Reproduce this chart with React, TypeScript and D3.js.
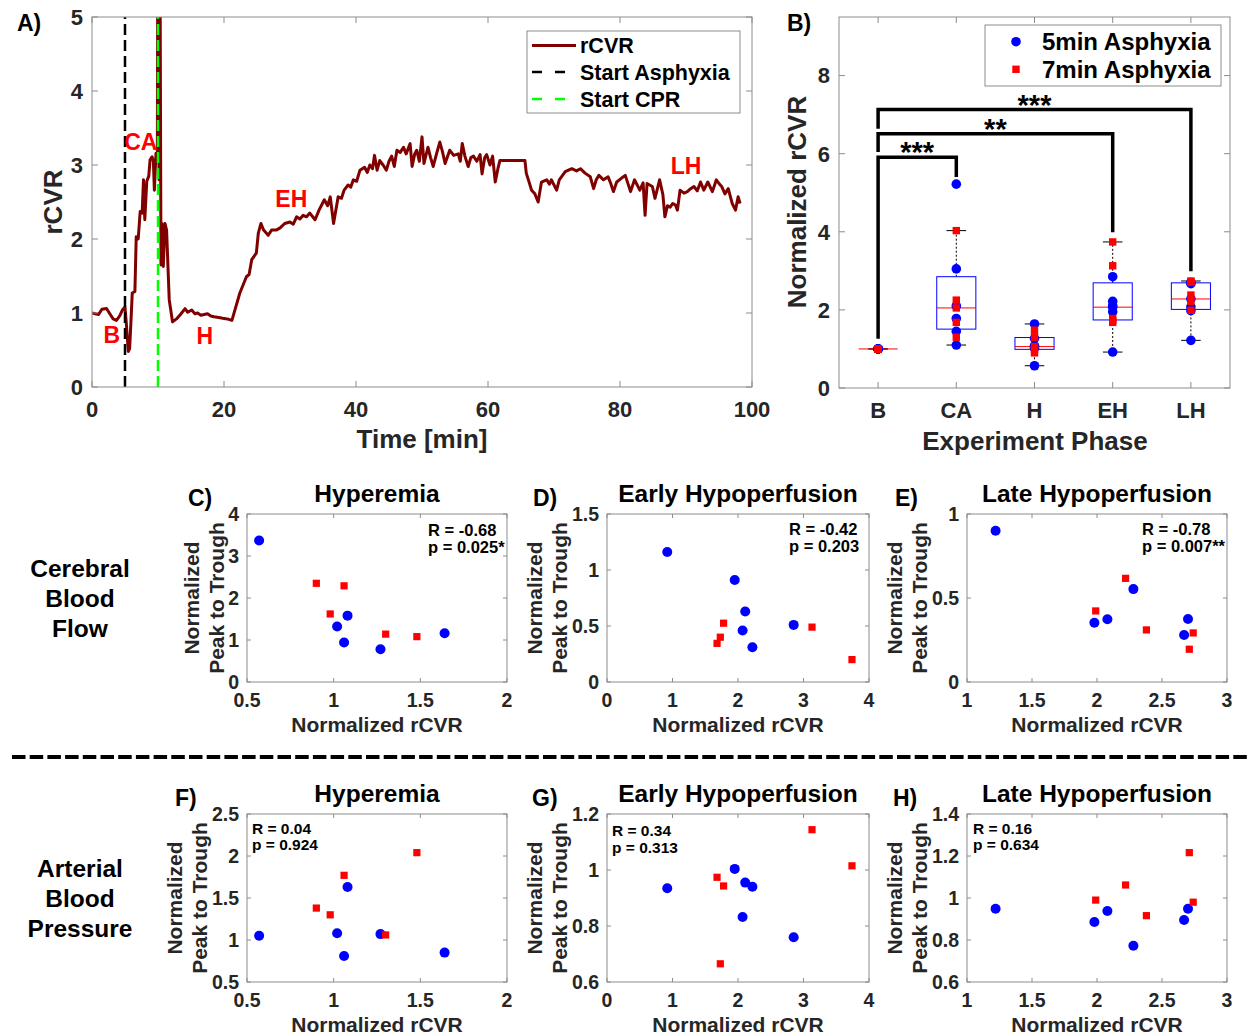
import React from 'react';
import * as d3 from 'd3';

const FONT = "'Liberation Sans', Arial, Helvetica, sans-serif";
const INK = '#262626';
const FRAME = '#8c8c8c';
const BLUE = '#0000ff';
const RED = '#ff0000';
const DARKRED = '#800000';

// ---------------- Panel A data ----------------
const timeMin = [
  0, 0.5, 1.0, 1.5, 2.2, 2.7, 3.2, 3.7, 4.2, 4.6, 5.0, 5.2, 5.5, 5.7, 5.9, 6.1, 6.5, 6.7, 7.0, 7.3,
  7.6, 7.8, 8.0, 8.3, 8.6, 8.8, 9.1, 9.3, 9.45, 9.7, 9.9, 10.0, 10.15, 10.25, 10.45, 10.6, 10.8, 11.05, 11.3, 11.7,
  12.2, 12.8, 13.4, 14.1, 14.5, 15.1, 15.6, 16.0, 16.5, 17.0, 17.5, 18.0, 18.5, 19.2, 19.8, 20.5, 21.2, 22.4, 23.4, 23.8,
  24.2, 24.9, 25.2, 25.6, 26.0, 26.7, 27.2, 27.9, 28.5, 29.2, 30.0, 30.5, 31.0, 31.5, 32.0, 32.5, 33.0, 33.8, 34.4, 35.2,
  35.7, 36.1, 36.6, 37.3, 37.8, 38.2, 38.8, 39.2, 39.6, 40.1, 40.6, 41.3, 41.7, 42.1, 42.5, 42.8, 43.2, 43.6, 44.1, 44.6,
  45.0, 45.4, 45.8, 46.2, 46.7, 47.2, 47.6, 48.2, 48.5, 48.9, 49.2, 49.6, 50.0, 50.3, 50.9, 51.3, 51.7, 52.2, 52.7, 53.1,
  53.5, 54.2, 54.8, 55.5, 55.8, 56.1, 56.5, 57.0, 57.4, 57.8, 58.3, 58.8, 59.1, 59.5, 59.8, 60.3, 60.7, 61.1, 61.5, 61.8,
  65.6, 65.8, 66.6, 67.1, 67.6, 68.1, 68.9, 69.3, 69.6, 70.4, 70.8, 71.7, 72.2, 72.7, 73.4, 74.0, 74.7, 75.5, 76.0, 76.4,
  76.8, 77.5, 78.2, 78.6, 79.0, 79.5, 80.2, 80.8, 81.6, 82.2, 83.0, 83.5, 83.8, 84.1, 84.9, 85.3, 86.0, 86.5, 86.8, 87.2,
  87.6, 88.0, 88.4, 88.7, 89.1, 89.7, 90.2, 90.7, 91.2, 91.7, 92.2, 92.7, 93.3, 94.0, 94.6, 95.0, 95.4, 95.9, 96.4, 97.0,
  97.5, 97.9, 98.2
];
const rcvrValue = [
  1.0, 0.99, 0.98, 1.05, 1.06, 0.99, 0.92, 0.9, 0.96, 1.04, 1.08, 0.86, 0.48, 0.52, 0.88, 1.27, 1.29, 2.03, 2.0, 2.37,
  2.35, 2.8, 2.26, 2.78, 2.85, 3.07, 3.11, 3.05, 2.66, 3.16, 3.08, 7.5, 2.8, 7.5, 1.65, 2.21, 1.63, 2.21, 2.12, 1.18,
  0.88, 0.92, 0.98, 1.06, 1.01, 1.04, 0.99, 1.0, 0.97, 0.98, 0.99, 0.96, 0.95, 0.94, 0.93, 0.92, 0.9, 1.27, 1.49, 1.52,
  1.72, 1.81, 2.08, 2.21, 2.12, 2.05, 2.12, 2.12, 2.15, 2.21, 2.23, 2.2, 2.3, 2.27, 2.32, 2.3, 2.35, 2.26, 2.39, 2.53,
  2.45, 2.57, 2.21, 2.57, 2.55, 2.66, 2.73, 2.7, 2.8, 2.78, 2.93, 2.97, 2.9, 3.0, 2.95, 3.13, 2.93, 3.06, 3.0, 2.93,
  3.05, 3.12, 2.98, 3.2, 3.17, 3.24, 3.15, 3.29, 2.98, 3.15, 3.2, 3.05, 3.38, 3.02, 3.24, 3.1, 2.98, 3.15, 3.31, 3.18,
  3.02, 3.2, 3.13, 3.15, 3.05, 3.29, 3.12, 2.98, 3.1, 3.12, 3.05, 3.14, 2.88, 3.1, 3.14, 3.0, 3.12, 2.77, 2.95, 3.06,
  3.06, 2.89, 2.66, 2.61, 2.5, 2.77, 2.8, 2.74, 2.8, 2.66, 2.8, 2.91, 2.93, 2.95, 2.92, 2.95, 2.89, 2.84, 2.68, 2.8,
  2.86, 2.8, 2.84, 2.75, 2.64, 2.77, 2.82, 2.86, 2.64, 2.8, 2.66, 2.76, 2.32, 2.75, 2.71, 2.55, 2.8, 2.6, 2.3, 2.45,
  2.43, 2.48, 2.46, 2.39, 2.66, 2.62, 2.64, 2.68, 2.71, 2.65, 2.77, 2.66, 2.77, 2.64, 2.8, 2.75, 2.71, 2.61, 2.68, 2.48,
  2.39, 2.57, 2.48
];
const asphyxiaStartMin = 5;
const cprStartMin = 10;
const phaseNames = ['B', 'CA', 'H', 'EH', 'LH'];
const phaseLabelTime = [3.0, 7.4, 17.1, 30.2, 90.0];
const phaseLabelValue = [0.7, 3.32, 0.69, 2.55, 2.99];
const legendANames = ['rCVR', 'Start Asphyxia', 'Start CPR'];
const xTicksA = [0, 20, 40, 60, 80, 100];
const yTicksA = [0, 1, 2, 3, 4, 5];

// ---------------- Panel B / scatter data ----------------
const base5 = [1, 1, 1, 1, 1, 1];
const base7 = [1, 1, 1, 1, 1];
const ca5 = [5.22, 3.05, 2.1, 1.78, 1.45, 1.1];
const ca7 = [4.03, 2.25, 2.05, 1.68, 1.3];
const hyp5 = [0.57, 1.02, 1.08, 1.06, 1.27, 1.64];
const hyp7 = [0.9, 1.06, 0.98, 1.3, 1.48];
const eh5 = [0.92, 1.95, 2.11, 2.07, 2.22, 2.85];
const eh7 = [1.68, 1.73, 1.78, 3.13, 3.74];
const lh5 = [1.22, 1.98, 2.08, 2.28, 2.67, 2.7];
const lh7 = [1.99, 2.22, 2.38, 2.71, 2.74];

const cbfHyp5 = [3.37, 1.32, 1.58, 0.94, 0.78, 1.16];
const cbfHyp7 = [2.35, 2.29, 1.62, 1.14, 1.08];
const cbfEH5 = [1.16, 0.91, 0.63, 0.46, 0.31, 0.51];
const cbfEH7 = [0.345, 0.4, 0.525, 0.49, 0.2];
const cbfLH5 = [0.9, 0.353, 0.373, 0.553, 0.28, 0.375];
const cbfLH7 = [0.423, 0.617, 0.31, 0.195, 0.292];

const abpHyp5 = [1.05, 1.08, 1.63, 0.81, 1.07, 0.85];
const abpHyp7 = [1.38, 1.77, 1.3, 1.06, 2.04];
const abpEH5 = [0.935, 1.004, 0.955, 0.832, 0.94, 0.76];
const abpEH7 = [0.974, 0.665, 0.943, 1.144, 1.015];
const abpLH5 = [0.949, 0.886, 0.938, 0.773, 0.895, 0.949];
const abpLH7 = [0.99, 1.062, 0.916, 1.216, 0.98];

const groups5 = [base5, ca5, hyp5, eh5, lh5];
const groups7 = [base7, ca7, hyp7, eh7, lh7];
const legendBNames = ['5min Asphyxia', '7min Asphyxia'];
const yTicksB = [0, 2, 4, 6, 8];
const sigFrom = [0, 0, 0];
const sigTo = [1, 3, 4];
const sigTop = [5.91, 6.51, 7.13];
const sigLeftBottom = [1.26, 6.04, 6.64];
const sigRightBottom = [5.4, 3.99, 2.99];
const sigStars = ['***', '**', '***'];

const scatterTitles = ['Hyperemia', 'Early Hypoperfusion', 'Late Hypoperfusion'];
const panelLetters = ['C)', 'D)', 'E)', 'F)', 'G)', 'H)'];
const rowNames = [['Cerebral', 'Blood', 'Flow'], ['Arterial', 'Blood', 'Pressure']];
const statR = ['R = -0.68', 'R = -0.42', 'R = -0.78', 'R = 0.04', 'R = 0.34', 'R = 0.16'];
const statP = ['p = 0.025*', 'p = 0.203', 'p = 0.007**', 'p = 0.924', 'p = 0.313', 'p = 0.634'];
const scatterX5 = [hyp5, eh5, lh5];
const scatterX7 = [hyp7, eh7, lh7];
const scatterY5 = [[cbfHyp5, cbfEH5, cbfLH5], [abpHyp5, abpEH5, abpLH5]];
const scatterY7 = [[cbfHyp7, cbfEH7, cbfLH7], [abpHyp7, abpEH7, abpLH7]];
const scatterXDomain = [[0.5, 2], [0, 4], [1, 3]];
const scatterXTicks = [[0.5, 1, 1.5, 2], [0, 1, 2, 3, 4], [1, 1.5, 2, 2.5, 3]];
const scatterYDomain = [[[0, 4], [0, 1.5], [0, 1]], [[0.5, 2.5], [0.6, 1.2], [0.6, 1.4]]];
const scatterYTicks = [
  [[0, 1, 2, 3, 4], [0, 0.5, 1, 1.5], [0, 0.5, 1]],
  [[0.5, 1, 1.5, 2, 2.5], [0.6, 0.8, 1, 1.2], [0.6, 0.8, 1, 1.2, 1.4]],
];

// ---------------- helpers ----------------
const fmt = d3.format('~g');

function prctile(sorted: number[], p: number) {
  const n = sorted.length;
  const pos = p * n + 0.5;
  if (pos <= 1) return sorted[0];
  if (pos >= n) return sorted[n - 1];
  const lo = Math.floor(pos);
  const f = pos - lo;
  return sorted[lo - 1] + f * (sorted[lo] - sorted[lo - 1]);
}

function boxStats(vals: number[]) {
  const s = vals.slice().sort(d3.ascending);
  const q1 = prctile(s, 0.25);
  const med = prctile(s, 0.5);
  const q3 = prctile(s, 0.75);
  const iqr = q3 - q1;
  const hi = d3.max(s.filter((v) => v <= q3 + 1.5 * iqr)) as number;
  const lo = d3.min(s.filter((v) => v >= q1 - 1.5 * iqr)) as number;
  return { q1, med, q3, hi, lo };
}

type AxesProps = {
  x: d3.ScaleLinear<number, number>;
  y: d3.ScaleLinear<number, number>;
  xTicks: number[];
  yTicks: number[];
  xTickLabels?: string[];
  tickLen: number;
  fontSize: number;
  xLabelDy: number;
  yLabelDx: number;
};

function Axes({ x, y, xTicks, yTicks, xTickLabels, tickLen, fontSize, xLabelDy, yLabelDx }: AxesProps) {
  const [x0, x1] = x.range();
  const [y0, y1] = y.range();
  return (
    <g>
      <rect x={x0} y={y1} width={x1 - x0} height={y0 - y1} fill="none" stroke={FRAME} strokeWidth={1} />
      {xTicks.map((t, i) => (
        <g key={'x' + i}>
          <line x1={x(t)} x2={x(t)} y1={y0} y2={y0 - tickLen} stroke={FRAME} />
          <line x1={x(t)} x2={x(t)} y1={y1} y2={y1 + tickLen} stroke={FRAME} />
          <text x={x(t)} y={y0 + xLabelDy} textAnchor="middle" fontSize={fontSize} fontWeight="bold" fill={INK}>
            {xTickLabels ? xTickLabels[i] : fmt(t)}
          </text>
        </g>
      ))}
      {yTicks.map((t, i) => (
        <g key={'y' + i}>
          <line x1={x0} x2={x0 + tickLen} y1={y(t)} y2={y(t)} stroke={FRAME} />
          <line x1={x1} x2={x1 - tickLen} y1={y(t)} y2={y(t)} stroke={FRAME} />
          <text x={x0 - yLabelDx} y={y(t)} dy="0.36em" textAnchor="end" fontSize={fontSize} fontWeight="bold" fill={INK}>
            {fmt(t)}
          </text>
        </g>
      ))}
    </g>
  );
}

function PanelA() {
  const x = d3.scaleLinear().domain([0, 100]).range([92, 752]);
  const y = d3.scaleLinear().domain([0, 5]).range([387, 17]);
  const pts = timeMin.map((t, i) => [t, rcvrValue[i]] as [number, number]);
  const line = d3
    .line<[number, number]>()
    .x((d) => x(d[0]))
    .y((d) => y(d[1]));
  const lx = 532;
  const ly = [45.5, 72, 99];
  return (
    <g>
      <defs>
        <clipPath id="clipA">
          <rect x={92} y={17} width={660} height={370} />
        </clipPath>
      </defs>
      <g clipPath="url(#clipA)">
        <path d={line(pts) || ''} fill="none" stroke={DARKRED} strokeWidth={3} strokeLinejoin="round" />
        <line x1={x(asphyxiaStartMin)} x2={x(asphyxiaStartMin)} y1={387} y2={17} stroke="#000" strokeWidth={2.5} strokeDasharray="11 5" />
        <line x1={x(cprStartMin)} x2={x(cprStartMin)} y1={387} y2={17} stroke="#00ff00" strokeWidth={2.5} strokeDasharray="11 5" />
      </g>
      {phaseNames.map((n, i) => (
        <text key={n} x={x(phaseLabelTime[i])} y={y(phaseLabelValue[i])} dy="0.36em" textAnchor="middle" fontSize={23} fontWeight="bold" fill={RED}>
          {n}
        </text>
      ))}
      <Axes x={x} y={y} xTicks={xTicksA} yTicks={yTicksA} tickLen={6} fontSize={22} xLabelDy={30} yLabelDx={9} />
      <rect x={527} y={31} width={213} height={82} fill="#fff" stroke={FRAME} strokeWidth={1} />
      <line x1={lx} x2={576} y1={ly[0]} y2={ly[0]} stroke={DARKRED} strokeWidth={3} />
      <line x1={lx} x2={566} y1={ly[1]} y2={ly[1]} stroke="#000" strokeWidth={2.5} strokeDasharray="10 13" />
      <line x1={lx} x2={566} y1={ly[2]} y2={ly[2]} stroke="#00ff00" strokeWidth={2.5} strokeDasharray="10 13" />
      {legendANames.map((n, i) => (
        <text key={n} x={580} y={ly[i]} dy="0.36em" fontSize={21.5} fontWeight="bold" fill="#000">
          {n}
        </text>
      ))}
      <text x={62} y={202} transform="rotate(-90 62 202)" textAnchor="middle" fontSize={26} fontWeight="bold" fill={INK}>
        rCVR
      </text>
      <text x={422} y={448} textAnchor="middle" fontSize={26} fontWeight="bold" fill={INK}>
        Time [min]
      </text>
      <text x={17} y={31} fontSize={23} fontWeight="bold" fill="#000">
        A)
      </text>
    </g>
  );
}

function PanelB() {
  const x = d3.scaleLinear().domain([0.5, 5.5]).range([839, 1230]);
  const y = d3.scaleLinear().domain([0, 9.5]).range([388, 17]);
  const halfBox = x(1.25) - x(1);
  const halfCap = x(1.125) - x(1);
  return (
    <g>
      <Axes
        x={x}
        y={y}
        xTicks={phaseNames.map((_, i) => i + 1)}
        xTickLabels={phaseNames}
        yTicks={yTicksB}
        tickLen={6}
        fontSize={22}
        xLabelDy={30}
        yLabelDx={9}
      />
      {phaseNames.map((n, i) => {
        const st = boxStats(groups5[i].concat(groups7[i]));
        const cx = x(i + 1);
        return (
          <g key={n}>
            <line x1={cx} x2={cx} y1={y(st.q3)} y2={y(st.hi)} stroke="#000" strokeWidth={1} strokeDasharray="2 2" />
            <line x1={cx} x2={cx} y1={y(st.q1)} y2={y(st.lo)} stroke="#000" strokeWidth={1} strokeDasharray="2 2" />
            <line x1={cx - halfCap} x2={cx + halfCap} y1={y(st.hi)} y2={y(st.hi)} stroke="#000" strokeWidth={1} />
            <line x1={cx - halfCap} x2={cx + halfCap} y1={y(st.lo)} y2={y(st.lo)} stroke="#000" strokeWidth={1} />
            <rect x={cx - halfBox} y={y(st.q3)} width={2 * halfBox} height={Math.max(0, y(st.q1) - y(st.q3))} fill="none" stroke={BLUE} strokeWidth={1} />
            <line x1={cx - halfBox} x2={cx + halfBox} y1={y(st.med)} y2={y(st.med)} stroke={RED} strokeWidth={1} />
          </g>
        );
      })}
      {phaseNames.map((n, i) =>
        groups5[i].map((v, j) => <circle key={n + 'b' + j} cx={x(i + 1)} cy={y(v)} r={4.8} fill={BLUE} />)
      )}
      {phaseNames.map((n, i) =>
        groups7[i].map((v, j) => <rect key={n + 'r' + j} x={x(i + 1) - 3.7} y={y(v) - 3.7} width={7.4} height={7.4} fill={RED} />)
      )}
      {sigStars.map((s, k) => {
        const xa = x(sigFrom[k] + 1);
        const xb = x(sigTo[k] + 1);
        const d = `M${xa},${y(sigLeftBottom[k])}V${y(sigTop[k])}H${xb}V${y(sigRightBottom[k])}`;
        return (
          <g key={'sig' + k}>
            <path d={d} fill="none" stroke="#000" strokeWidth={3.5} />
            <text x={(xa + xb) / 2} y={y(sigTop[k]) + 5} textAnchor="middle" fontSize={29} fontWeight="bold" fill="#000">
              {s}
            </text>
          </g>
        );
      })}
      <rect x={985} y={25} width={236} height={61} fill="#fff" stroke={FRAME} strokeWidth={1} />
      <circle cx={1016} cy={41.7} r={4.8} fill={BLUE} />
      <rect x={1016 - 3.7} y={69.3 - 3.7} width={7.4} height={7.4} fill={RED} />
      {legendBNames.map((n, i) => (
        <text key={n} x={1042} y={[50, 78.3][i]} fontSize={24} fontWeight="bold" fill="#000">
          {n}
        </text>
      ))}
      <text x={806} y={202} transform="rotate(-90 806 202)" textAnchor="middle" fontSize={26} fontWeight="bold" fill={INK}>
        Normalized rCVR
      </text>
      <text x={1035} y={450} textAnchor="middle" fontSize={26} fontWeight="bold" fill={INK}>
        Experiment Phase
      </text>
      <text x={787} y={31} fontSize={23} fontWeight="bold" fill="#000">
        B)
      </text>
    </g>
  );
}

const colLeft = [247, 607, 967];
const colRight = [507, 869, 1227];
const rowTop = [514, 814];
const rowBottom = [682, 982];
const letterX = [[188, 533, 895], [175, 532, 893]];
const yLabBase = [[[199, 224], [542, 567], [902, 927]], [[182, 207], [542, 567], [902, 927]]];
const statX = [[428, 789, 1142], [252, 612, 973]];
const statBase = [[[536, 553], [535, 552], [535, 552]], [[834, 850], [836, 853], [834, 850]]];
const statSize = [16.5, 15.5];

function Scatter({ row, col }: { row: number; col: number }) {
  const x = d3.scaleLinear().domain(scatterXDomain[col]).range([colLeft[col], colRight[col]]);
  const y = d3.scaleLinear().domain(scatterYDomain[row][col]).range([rowBottom[row], rowTop[row]]);
  const cx = (colLeft[col] + colRight[col]) / 2;
  const cy = (rowTop[row] + rowBottom[row]) / 2;
  const idx = row * 3 + col;
  const [b1, b2] = yLabBase[row][col];
  return (
    <g>
      <Axes x={x} y={y} xTicks={scatterXTicks[col]} yTicks={scatterYTicks[row][col]} tickLen={4} fontSize={19.5} xLabelDy={25} yLabelDx={8} />
      {scatterX5[col].map((v, j) => (
        <circle key={'b' + j} cx={x(v)} cy={y(scatterY5[row][col][j])} r={5} fill={BLUE} />
      ))}
      {scatterX7[col].map((v, j) => (
        <rect key={'r' + j} x={x(v) - 3.6} y={y(scatterY7[row][col][j]) - 3.6} width={7.2} height={7.2} fill={RED} />
      ))}
      <text x={statX[row][col]} y={statBase[row][col][0]} fontSize={statSize[row]} fontWeight="bold" fill="#000">
        {statR[idx]}
      </text>
      <text x={statX[row][col]} y={statBase[row][col][1]} fontSize={statSize[row]} fontWeight="bold" fill="#000">
        {statP[idx]}
      </text>
      <text x={cx} y={rowTop[row] - 12} textAnchor="middle" fontSize={24.5} fontWeight="bold" fill="#000">
        {scatterTitles[col]}
      </text>
      <text x={letterX[row][col]} y={rowTop[row] - 8} fontSize={23} fontWeight="bold" fill="#000">
        {panelLetters[idx]}
      </text>
      <text x={b1} y={cy} transform={`rotate(-90 ${b1} ${cy})`} textAnchor="middle" fontSize={21} fontWeight="bold" fill={INK}>
        Normalized
      </text>
      <text x={b2} y={cy} transform={`rotate(-90 ${b2} ${cy})`} textAnchor="middle" fontSize={21} fontWeight="bold" fill={INK}>
        Peak to Trough
      </text>
      <text x={cx} y={rowBottom[row] + 50} textAnchor="middle" fontSize={21} fontWeight="bold" fill={INK}>
        Normalized rCVR
      </text>
    </g>
  );
}

export default function App() {
  return (
    <svg
      width={1248}
      height={1035}
      viewBox="0 0 1248 1035"
      style={{ position: 'absolute', left: 0, top: 0, background: '#fff' }}
      fontFamily={FONT}
    >
      <rect x={0} y={0} width={1248} height={1035} fill="#fff" />
      <PanelA />
      <PanelB />
      {[0, 1].map((r) => [0, 1, 2].map((c) => <Scatter key={r + '-' + c} row={r} col={c} />))}
      {rowNames.map((lines, r) =>
        lines.map((t, i) => (
          <text key={r + t} x={80} y={[577, 877][r] + i * 30} textAnchor="middle" fontSize={24.5} fontWeight="bold" fill="#000">
            {t}
          </text>
        ))
      )}
      <line x1={12} x2={1248} y1={757} y2={757} stroke="#000" strokeWidth={4} strokeDasharray="13.5 4.2" />
    </svg>
  );
}
